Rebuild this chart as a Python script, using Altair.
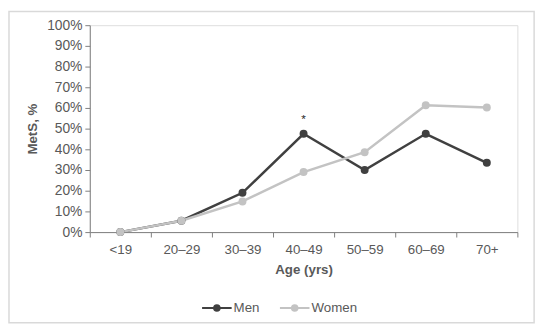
import altair as alt
import pandas as pd

ages = ["<19", "20–29", "30–39", "40–49", "50–59", "60–69", "70+"]
men = [0, 5.5, 19, 47.5, 30, 47.5, 33.5]
women = [0, 5.5, 14.8, 29, 38.6, 61.3, 60.2]
series = ["Men", "Women"]
colors = ["#404040", "#c3c3c3"]
star_age = ["40–49"]
star_val = [54.5]
star_txt = ["*"]
y_ticks = [0, 10, 20, 30, 40, 50, 60, 70, 80, 90, 100]

rows = []
for a, m, w in zip(ages, men, women):
    rows.append({"age": a, "val": m / 100, "sex": "Men"})
    rows.append({"age": a, "val": w / 100, "sex": "Women"})
df = pd.DataFrame(rows)
star = pd.DataFrame({"age": star_age, "val": [v / 100 for v in star_val], "t": star_txt})

FONT = "Liberation Sans"
TXT = "#595959"
AX = "#7f7f7f"

xenc = alt.X("age:N", sort=ages, scale=alt.Scale(domain=ages, paddingInner=0, paddingOuter=0),
             axis=alt.Axis(title="Age (yrs)", labelAngle=0, tickBand="extent", tickSize=5,
                           labelPadding=6, titlePadding=7, domainColor=AX, tickColor=AX,
                           labelColor=TXT, titleColor=TXT, labelFontSize=13.5, titleFontSize=13.5,
                           titleFontWeight="bold", grid=False, labelOverlap=False))
yenc = alt.Y("val:Q", scale=alt.Scale(domain=[0, 1]),
             axis=alt.Axis(title="MetS, %", format=".0%", values=[t / 100 for t in y_ticks],
                           tickSize=5, labelPadding=3, titlePadding=7, domainColor=AX, tickColor=AX,
                           labelColor=TXT, titleColor=TXT, labelFontSize=14, titleFontSize=13.5,
                           titleFontWeight="bold", grid=False, labelOverlap=False))

sym = "M-1,0L1,0M-0.19,0A0.19,0.19,0,1,1,0.19,0A0.19,0.19,0,1,1,-0.19,0Z"

lines = alt.Chart(df).mark_line(strokeWidth=2.5, point=alt.OverlayMarkDef(filled=True, size=65, opacity=1)).encode(
    x=xenc, y=yenc,
    color=alt.Color("sex:N", scale=alt.Scale(domain=series, range=colors),
                    legend=alt.Legend(title=None, orient="none", legendX=113, legendY=271,
                                      direction="horizontal", symbolType=sym, symbolSize=900,
                                      symbolStrokeWidth=2, labelFontSize=13.5, labelColor=TXT,
                                      labelFont=FONT, columnPadding=16, labelOffset=1)),
    order=alt.Order("sex:N"),
)

stars = alt.Chart(star).mark_text(fontSize=12, color="#262626", font=FONT, baseline="middle").encode(
    x=xenc, y=yenc, text="t:N")

border = alt.Chart(pd.DataFrame({"a": [0]})).mark_rect(
    fill=None, stroke="#d9d9d9", strokeWidth=1.5, clip=False).encode(
    x=alt.value(-82), x2=alt.value(451), y=alt.value(-14), y2=alt.value(302))

chart = alt.layer(border, lines, stars).properties(
    width=434, height=210,
    autosize=alt.AutoSizeParams(type="none"),
    padding={"left": 83, "top": 15, "right": 25, "bottom": 102},
).configure_view(stroke=None).configure(font=FONT)

chart.save("out.html", embed_options={"renderer": "svg", "actions": False})
